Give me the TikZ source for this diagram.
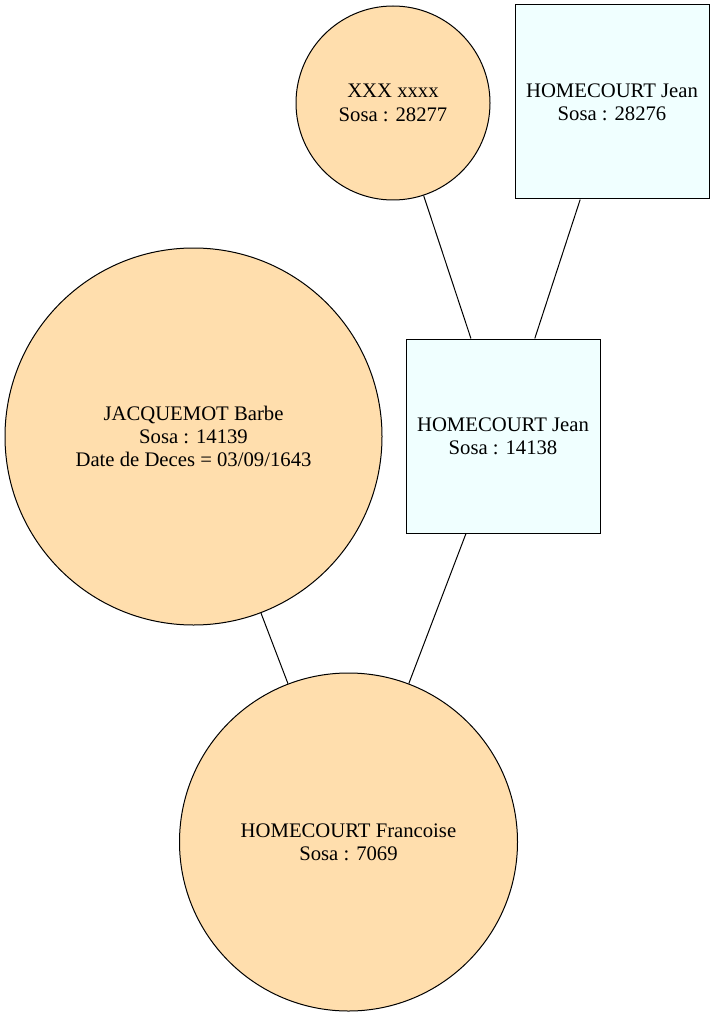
\documentclass[tikz,border=0pt]{standalone}
\usepackage{fontspec}
\setmainfont{Liberation Serif}
\usepackage{xcolor}
\usetikzlibrary{positioning}
\definecolor{navajo}{HTML}{FFDEAD}
\definecolor{azur}{HTML}{F0FFFF}
\begin{document}
\begin{tikzpicture}[
  x=1pt,y=-1pt,
  every node/.style={font=\fontsize{20.7}{23.3}\selectfont,align=center,inner sep=0pt},
  female/.style={circle,draw,line width=1pt,fill=navajo},
  male/.style={rectangle,draw,line width=1pt,fill=azur,minimum size=194pt},
  link/.style={line width=1pt}
  ]
  \useasboundingbox (0,0) rectangle (715,1016);
  % f-female m-male, named by sosa number
  \node [female,minimum size=194pt] (f28277) at (393,103) {XXX xxxx\\Sosa : 28277};
  \node [male]                      (m28276) at (612,102) {HOMECOURT Jean\\Sosa : 28276};
  \node [male]                      (m14138) at (503,436) {HOMECOURT Jean\\Sosa : 14138};
  \node [female,minimum size=377pt] (f14139) at (193.5,436.5) {JACQUEMOT Barbe\\Sosa : 14139\\Date de Deces = 03/09/1643};
  \node [female,minimum size=338pt] (f7069)  at (348.5,842) {HOMECOURT Francoise\\Sosa : 7069};
  \draw [link] (f28277) -- (m14138);
  \draw [link] (m28276) -- (m14138);
  \draw [link] (f14139) -- (f7069);
  \draw [link] (m14138) -- (f7069);
\end{tikzpicture}
\end{document}
